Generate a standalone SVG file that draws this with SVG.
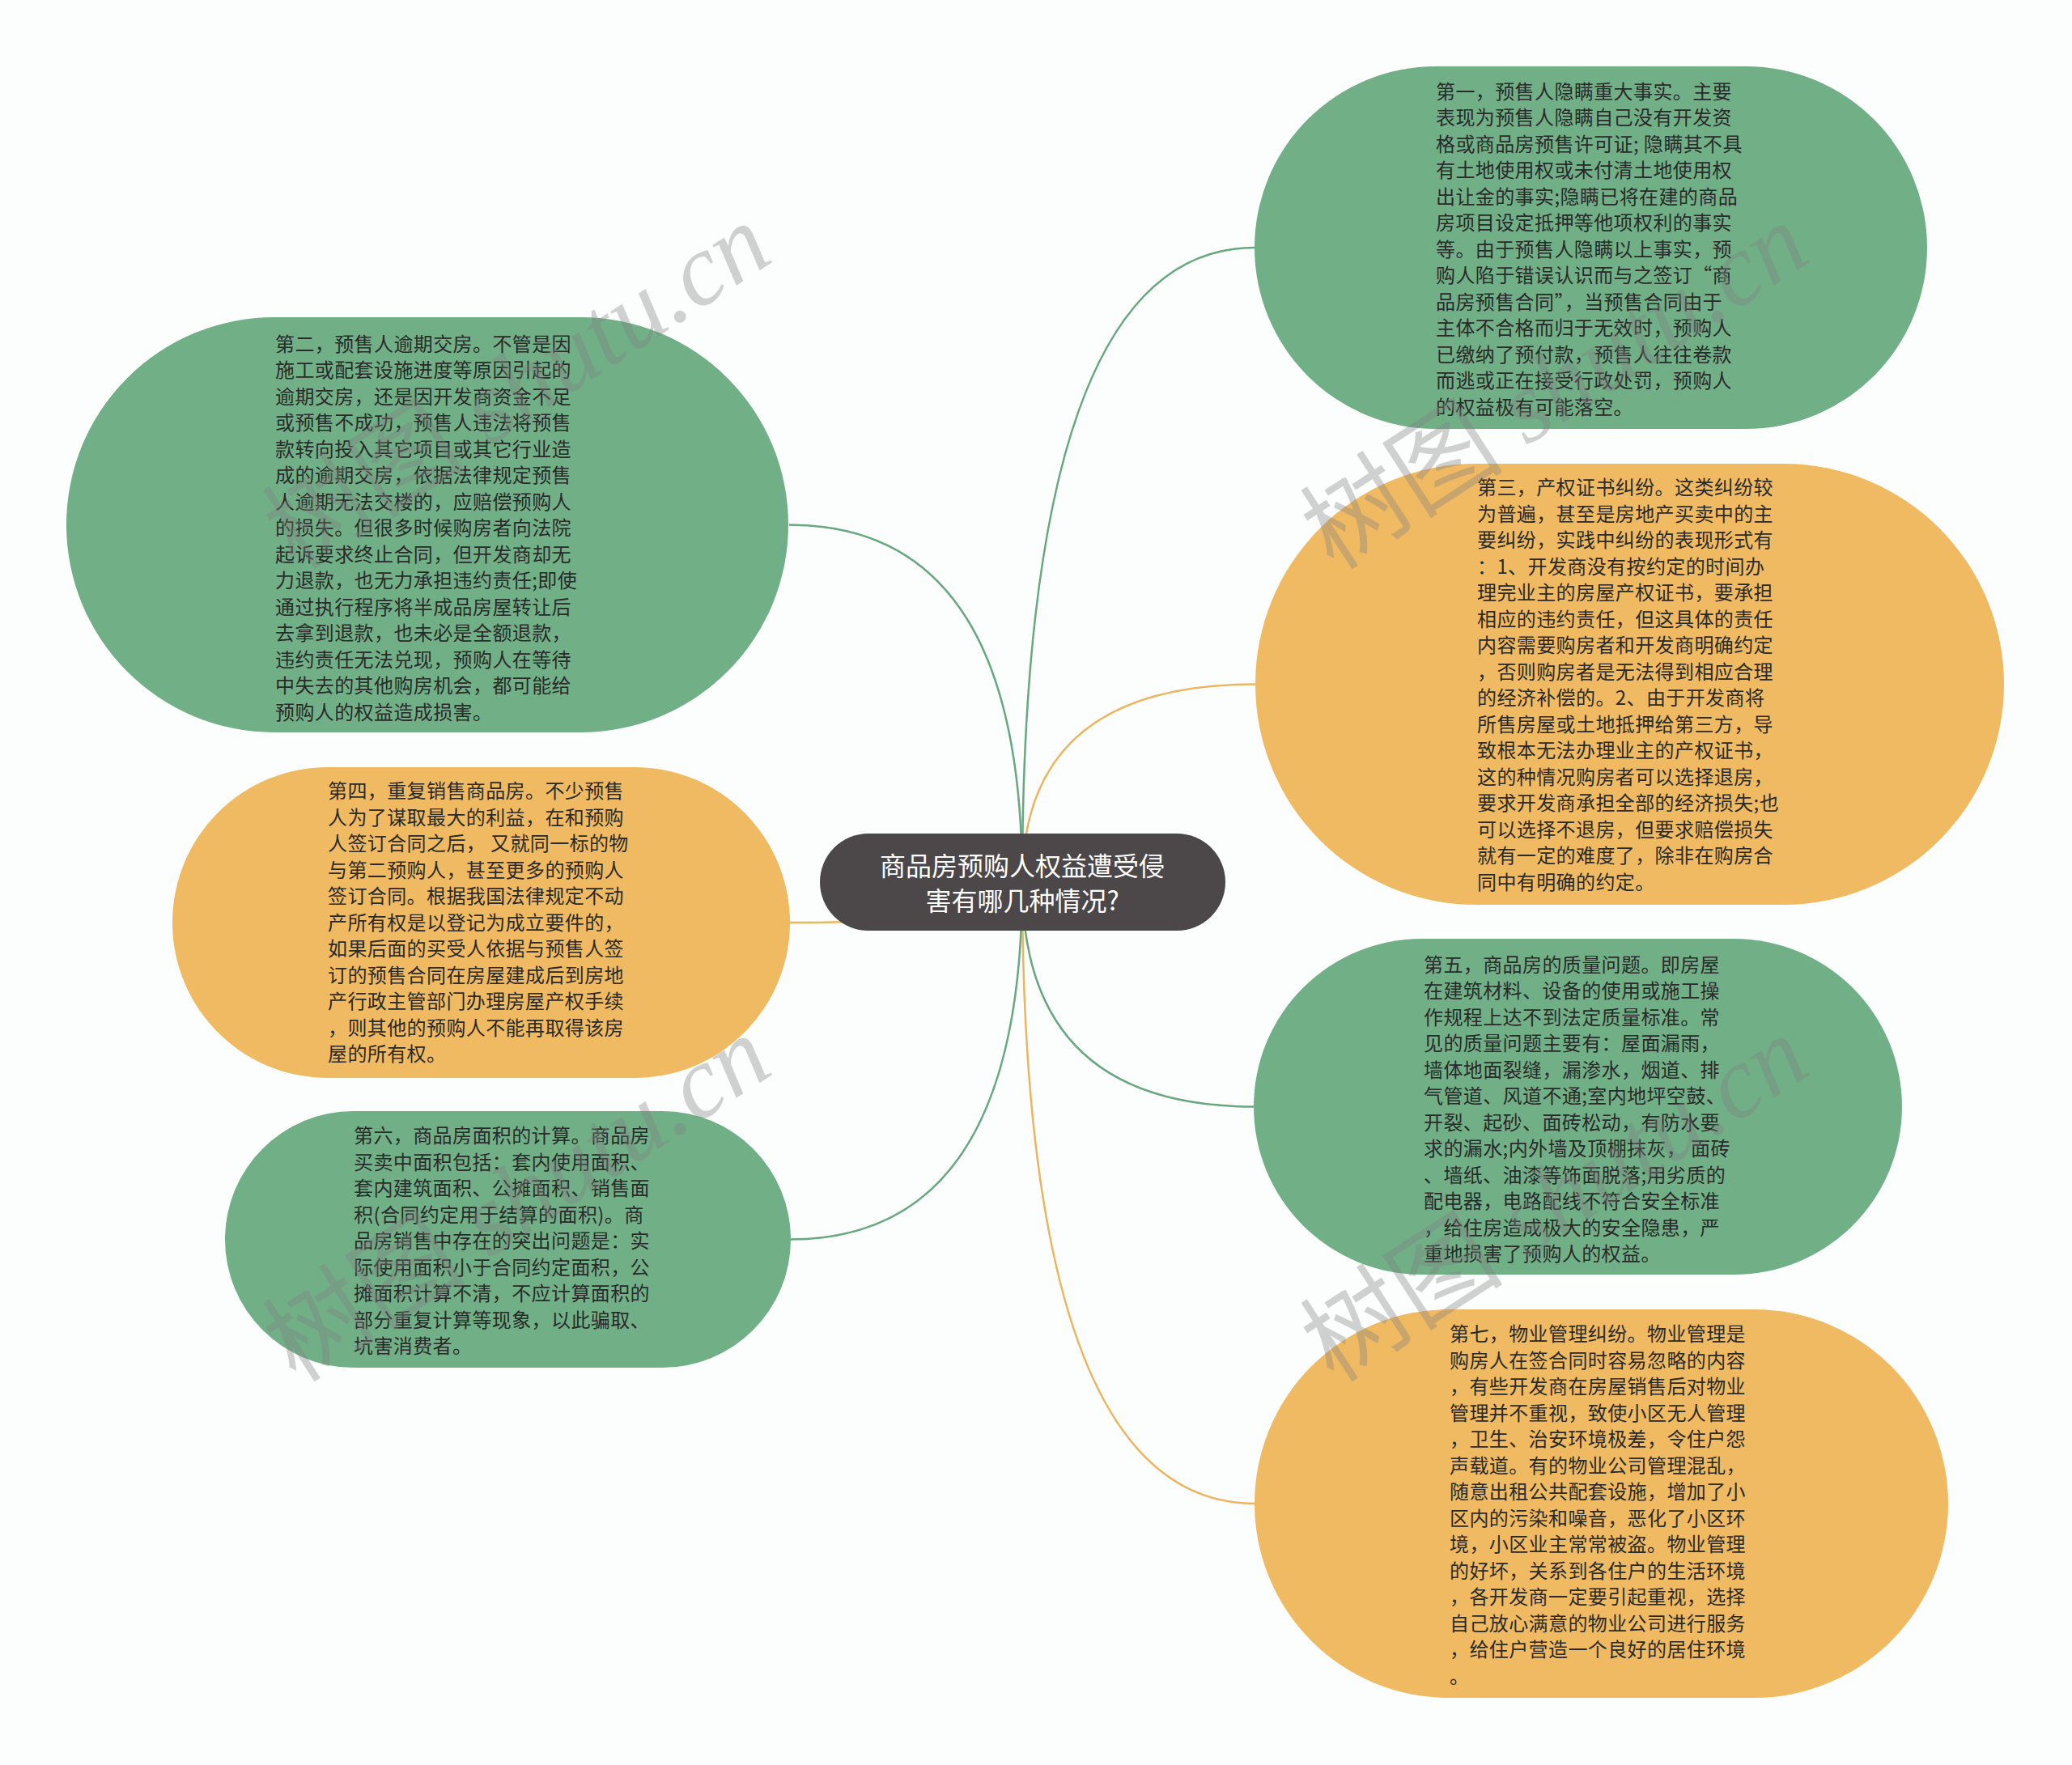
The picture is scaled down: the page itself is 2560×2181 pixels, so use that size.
<svg xmlns="http://www.w3.org/2000/svg" width="2560" height="2181" viewBox="0 0 2560 2181">
<style>
.bg{fill:#fcfefd}
.g{fill:#71b087}
.o{fill:#f0ba62}
.ctr{fill:#4c4748}
.t{font-family:"Noto Sans CJK SC","Noto Sans",sans-serif;font-size:24px;fill:#2a2a2a;letter-spacing:0.4px}
.ct{font-family:"Noto Sans CJK SC","Noto Sans",sans-serif;font-size:32px;fill:#ffffff;text-anchor:middle}
.c{fill:none;stroke-width:2.5}
.cg{stroke:#68a880}
.co{stroke:#ebb55e}
.wm{font-family:"Liberation Serif","Noto Sans CJK SC",serif;font-size:126px;fill:#7f7f7f;fill-opacity:0.36}
</style>
<rect class="bg" x="0" y="0" width="2560" height="2181"/>
<g id="connectors">
<path class="c cg" d="M1263 1090 Q1263 306 1550 306"/>
<path class="c co" d="M1263 1090 Q1263 845.5 1551 845.5"/>
<path class="c cg" d="M1263 1090 Q1263 1367.5 1550 1367.5"/>
<path class="c co" d="M1263 1090 Q1263 1858 1551 1858"/>
<path class="c cg" d="M1263 1090 Q1263 648.5 975 648.5"/>
<path class="c co" d="M1263 1090 Q1263 1140 975 1140"/>
<path class="c cg" d="M1263 1090 Q1263 1531.5 976 1531.5"/>
</g>
<g id="center">
<rect class="ctr" x="1013" y="1030" width="501" height="120" rx="60"/>
<text class="ct" x="1263" y="1082">商品房预购人权益遭受侵</text>
<text class="ct" x="1263" y="1125">害有哪几种情况?</text>
</g>
<g id="node1">
<rect class="g" x="1550" y="82" width="831" height="448" rx="224"/>
<text class="t" x="1774" y="121.5"><tspan x="1774">第一，预售人隐瞒重大事实。主要</tspan><tspan x="1774" dy="32.5">表现为预售人隐瞒自己没有开发资</tspan><tspan x="1774" dy="32.5">格或商品房预售许可证; 隐瞒其不具</tspan><tspan x="1774" dy="32.5">有土地使用权或未付清土地使用权</tspan><tspan x="1774" dy="32.5">出让金的事实;隐瞒已将在建的商品</tspan><tspan x="1774" dy="32.5">房项目设定抵押等他项权利的事实</tspan><tspan x="1774" dy="32.5">等。由于预售人隐瞒以上事实，预</tspan><tspan x="1774" dy="32.5">购人陷于错误认识而与之签订“商</tspan><tspan x="1774" dy="32.5">品房预售合同”，当预售合同由于</tspan><tspan x="1774" dy="32.5">主体不合格而归于无效时，预购人</tspan><tspan x="1774" dy="32.5">已缴纳了预付款，预售人往往卷款</tspan><tspan x="1774" dy="32.5">而逃或正在接受行政处罚，预购人</tspan><tspan x="1774" dy="32.5">的权益极有可能落空。</tspan></text>
</g>
<g id="node3">
<rect class="o" x="1551" y="573" width="925" height="545" rx="272.5"/>
<text class="t" x="1825" y="611"><tspan x="1825">第三，产权证书纠纷。这类纠纷较</tspan><tspan x="1825" dy="32.5">为普遍，甚至是房地产买卖中的主</tspan><tspan x="1825" dy="32.5">要纠纷，实践中纠纷的表现形式有</tspan><tspan x="1825" dy="32.5">：1、开发商没有按约定的时间办</tspan><tspan x="1825" dy="32.5">理完业主的房屋产权证书，要承担</tspan><tspan x="1825" dy="32.5">相应的违约责任，但这具体的责任</tspan><tspan x="1825" dy="32.5">内容需要购房者和开发商明确约定</tspan><tspan x="1825" dy="32.5">，否则购房者是无法得到相应合理</tspan><tspan x="1825" dy="32.5">的经济补偿的。2、由于开发商将</tspan><tspan x="1825" dy="32.5">所售房屋或土地抵押给第三方，导</tspan><tspan x="1825" dy="32.5">致根本无法办理业主的产权证书，</tspan><tspan x="1825" dy="32.5">这的种情况购房者可以选择退房，</tspan><tspan x="1825" dy="32.5">要求开发商承担全部的经济损失;也</tspan><tspan x="1825" dy="32.5">可以选择不退房，但要求赔偿损失</tspan><tspan x="1825" dy="32.5">就有一定的难度了，除非在购房合</tspan><tspan x="1825" dy="32.5">同中有明确的约定。</tspan></text>
</g>
<g id="node5">
<rect class="g" x="1549" y="1160" width="801" height="415" rx="207.5"/>
<text class="t" x="1759" y="1200.5"><tspan x="1759">第五，商品房的质量问题。即房屋</tspan><tspan x="1759" dy="32.5">在建筑材料、设备的使用或施工操</tspan><tspan x="1759" dy="32.5">作规程上达不到法定质量标准。常</tspan><tspan x="1759" dy="32.5">见的质量问题主要有：屋面漏雨，</tspan><tspan x="1759" dy="32.5">墙体地面裂缝，漏渗水，烟道、排</tspan><tspan x="1759" dy="32.5">气管道、风道不通;室内地坪空鼓、</tspan><tspan x="1759" dy="32.5">开裂、起砂、面砖松动，有防水要</tspan><tspan x="1759" dy="32.5">求的漏水;内外墙及顶棚抹灰， 面砖</tspan><tspan x="1759" dy="32.5">、墙纸、油漆等饰面脱落;用劣质的</tspan><tspan x="1759" dy="32.5">配电器，电路配线不符合安全标准</tspan><tspan x="1759" dy="32.5">，给住房造成极大的安全隐患，严</tspan><tspan x="1759" dy="32.5">重地损害了预购人的权益。</tspan></text>
</g>
<g id="node7">
<rect class="o" x="1550" y="1618" width="857" height="480" rx="240"/>
<text class="t" x="1791" y="1657"><tspan x="1791">第七，物业管理纠纷。物业管理是</tspan><tspan x="1791" dy="32.5">购房人在签合同时容易忽略的内容</tspan><tspan x="1791" dy="32.5">，有些开发商在房屋销售后对物业</tspan><tspan x="1791" dy="32.5">管理并不重视，致使小区无人管理</tspan><tspan x="1791" dy="32.5">，卫生、治安环境极差，令住户怨</tspan><tspan x="1791" dy="32.5">声载道。有的物业公司管理混乱，</tspan><tspan x="1791" dy="32.5">随意出租公共配套设施，增加了小</tspan><tspan x="1791" dy="32.5">区内的污染和噪音，恶化了小区环</tspan><tspan x="1791" dy="32.5">境，小区业主常常被盗。物业管理</tspan><tspan x="1791" dy="32.5">的好坏，关系到各住户的生活环境</tspan><tspan x="1791" dy="32.5">，各开发商一定要引起重视，选择</tspan><tspan x="1791" dy="32.5">自己放心满意的物业公司进行服务</tspan><tspan x="1791" dy="32.5">，给住户营造一个良好的居住环境</tspan><tspan x="1791" dy="32.5">。</tspan></text>
</g>
<g id="node2">
<rect class="g" x="82" y="392" width="892" height="513" rx="256.5"/>
<text class="t" x="340" y="433.5"><tspan x="340">第二，预售人逾期交房。不管是因</tspan><tspan x="340" dy="32.5">施工或配套设施进度等原因引起的</tspan><tspan x="340" dy="32.5">逾期交房，还是因开发商资金不足</tspan><tspan x="340" dy="32.5">或预售不成功，预售人违法将预售</tspan><tspan x="340" dy="32.5">款转向投入其它项目或其它行业造</tspan><tspan x="340" dy="32.5">成的逾期交房，依据法律规定预售</tspan><tspan x="340" dy="32.5">人逾期无法交楼的，应赔偿预购人</tspan><tspan x="340" dy="32.5">的损失。但很多时候购房者向法院</tspan><tspan x="340" dy="32.5">起诉要求终止合同，但开发商却无</tspan><tspan x="340" dy="32.5">力退款，也无力承担违约责任;即使</tspan><tspan x="340" dy="32.5">通过执行程序将半成品房屋转让后</tspan><tspan x="340" dy="32.5">去拿到退款，也未必是全额退款，</tspan><tspan x="340" dy="32.5">违约责任无法兑现，预购人在等待</tspan><tspan x="340" dy="32.5">中失去的其他购房机会，都可能给</tspan><tspan x="340" dy="32.5">预购人的权益造成损害。</tspan></text>
</g>
<g id="node4">
<rect class="o" x="213" y="948" width="763" height="384" rx="192"/>
<text class="t" x="405" y="986"><tspan x="405">第四，重复销售商品房。不少预售</tspan><tspan x="405" dy="32.5">人为了谋取最大的利益，在和预购</tspan><tspan x="405" dy="32.5">人签订合同之后， 又就同一标的物</tspan><tspan x="405" dy="32.5">与第二预购人，甚至更多的预购人</tspan><tspan x="405" dy="32.5">签订合同。根据我国法律规定不动</tspan><tspan x="405" dy="32.5">产所有权是以登记为成立要件的，</tspan><tspan x="405" dy="32.5">如果后面的买受人依据与预售人签</tspan><tspan x="405" dy="32.5">订的预售合同在房屋建成后到房地</tspan><tspan x="405" dy="32.5">产行政主管部门办理房屋产权手续</tspan><tspan x="405" dy="32.5">，则其他的预购人不能再取得该房</tspan><tspan x="405" dy="32.5">屋的所有权。</tspan></text>
</g>
<g id="node6">
<rect class="g" x="278" y="1373" width="699" height="317" rx="158.5"/>
<text class="t" x="437" y="1412"><tspan x="437">第六，商品房面积的计算。商品房</tspan><tspan x="437" dy="32.5">买卖中面积包括：套内使用面积、</tspan><tspan x="437" dy="32.5">套内建筑面积、公摊面积、销售面</tspan><tspan x="437" dy="32.5">积(合同约定用于结算的面积)。商</tspan><tspan x="437" dy="32.5">品房销售中存在的突出问题是：实</tspan><tspan x="437" dy="32.5">际使用面积小于合同约定面积，公</tspan><tspan x="437" dy="32.5">摊面积计算不清，不应计算面积的</tspan><tspan x="437" dy="32.5">部分重复计算等现象，以此骗取、</tspan><tspan x="437" dy="32.5">坑害消费者。</tspan></text>
</g>
<g id="watermarks" class="wm">
<text transform="translate(366,706) rotate(-33)">树图 <tspan font-style="italic">shutu.cn</tspan></text>
<text transform="translate(1648,706) rotate(-33)">树图 <tspan font-style="italic">shutu.cn</tspan></text>
<text transform="translate(366,1710) rotate(-33)">树图 <tspan font-style="italic">shutu.cn</tspan></text>
<text transform="translate(1648,1710) rotate(-33)">树图 <tspan font-style="italic">shutu.cn</tspan></text>
</g>
</svg>
